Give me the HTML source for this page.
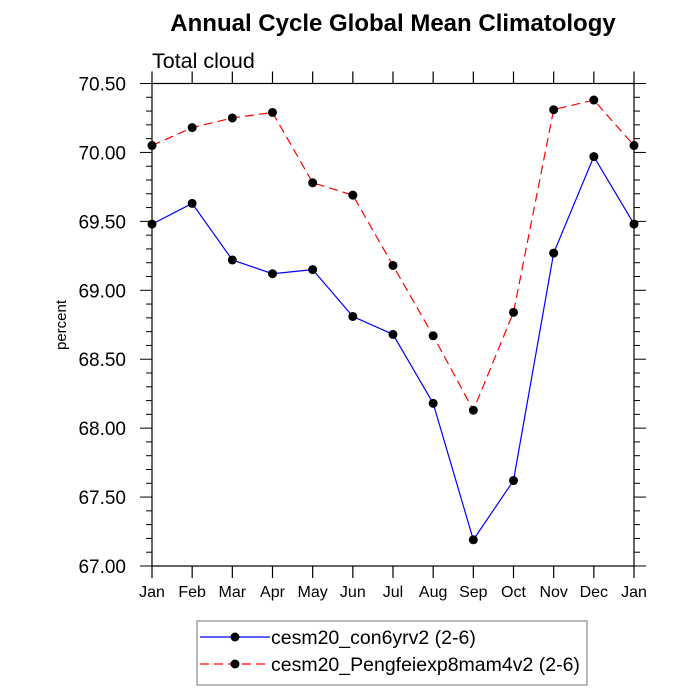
<!DOCTYPE html>
<html><head><meta charset="utf-8"><style>body{margin:0;background:#fff}svg{display:block;font-family:"Liberation Sans",sans-serif}</style></head>
<body>
<svg id="chart" width="700" height="700" viewBox="0 0 700 700">
<text x="393" y="31" font-size="24" font-weight="bold" text-anchor="middle">Annual Cycle Global Mean Climatology</text>
<text x="152" y="68" font-size="21.5">Total cloud</text>
<text transform="translate(66,325) rotate(-90)" font-size="15" text-anchor="middle">percent</text>
<g id="axes"></g>
<g id="series"></g>
<rect x="197" y="621" width="390" height="64" fill="none" stroke="#888" stroke-width="1.2"/>
<g id="legend"></g>
</svg>
<script>
const months = ["Jan","Feb","Mar","Apr","May","Jun","Jul","Aug","Sep","Oct","Nov","Dec","Jan"];
const blueValues = [69.48,69.63,69.22,69.12,69.15,68.81,68.68,68.18,67.19,67.62,69.27,69.97,69.48];
const redValues = [70.05,70.18,70.25,70.29,69.78,69.69,69.18,68.67,68.13,68.84,70.31,70.38,70.05];
const yTicks = [67.0,67.5,68.0,68.5,69.0,69.5,70.0,70.5];
const seriesNames = ["cesm20_con6yrv2 (2-6)","cesm20_Pengfeiexp8mam4v2 (2-6)"];

const NS="http://www.w3.org/2000/svg";
const L=152,R=634,T=83.5,B=566,yMin=67,yMax=70.5;
const xs=i=>L+(R-L)*i/(months.length-1);
const ys=v=>B-(v-yMin)/(yMax-yMin)*(B-T);
function mk(tag,attrs,parent){const e=document.createElementNS(NS,tag);for(const k in attrs)e.setAttribute(k,attrs[k]);parent.appendChild(e);return e;}
const ax=document.getElementById('axes');
const frame=mk('rect',{x:L,y:T,width:R-L,height:B-T,fill:'none',stroke:'#000','stroke-width':1.2},ax);


months.forEach((m,i)=>{
  const x=xs(i);
  mk('line',{x1:x,x2:x,y1:B,y2:B+12,stroke:'#000','stroke-width':1.2},ax);
  mk('line',{x1:x,x2:x,y1:T,y2:T-12,stroke:'#000','stroke-width':1.2},ax);
  const t=mk('text',{x:x,y:B+31,'font-size':16,'text-anchor':'middle'},ax);
  t.textContent=m;
  
  
});
for(let k=0;k<=35;k++){
  const v=yMin+k*0.1,y=ys(v),major=k%5===0,len=major?12:6;
  mk('line',{x1:L-len,x2:L,y1:y,y2:y,stroke:'#000','stroke-width':1},ax);
  mk('line',{x1:R,x2:R+len,y1:y,y2:y,stroke:'#000','stroke-width':1},ax);
}
yTicks.forEach(v=>{
  const t=mk('text',{x:126,y:ys(v)+7,'font-size':19,'text-anchor':'end'},ax);
  t.textContent=v.toFixed(2);
  
  
});
const sg=document.getElementById('series');
function drawSeries(vals,color,dash,name){
  const g=mk('g',{},sg);
  
  
  const p=mk('polyline',{points:vals.map((v,i)=>xs(i)+','+ys(v)).join(' '),fill:'none',stroke:color,'stroke-width':1.2},g);
  if(dash)p.setAttribute('stroke-dasharray',dash);
  vals.forEach((v,i)=>{
    const c=mk('circle',{cx:xs(i),cy:ys(v),r:4.5,fill:'#000'},g);
    
    
  });
}
drawSeries(blueValues,'#0000ff',null,'series-con6yrv2');
drawSeries(redValues,'#ff0000','9 5','series-pengfeiexp8mam4v2');
const lg=document.getElementById('legend');
[['#0000ff',null,637],['#ff0000','9 5',664]].forEach((s,i)=>{
  const g=mk('g',{},lg);
  
  
  const l=mk('line',{x1:200,x2:270,y1:s[2],y2:s[2],stroke:s[0],'stroke-width':1.2},g);
  if(s[1])l.setAttribute('stroke-dasharray',s[1]);
  mk('circle',{cx:235,cy:s[2],r:4.5,fill:'#000'},g);
  const t=mk('text',{x:271,y:s[2]+7,'font-size':19.5},g);
  t.textContent=seriesNames[i];
});
</script>
</body></html>
